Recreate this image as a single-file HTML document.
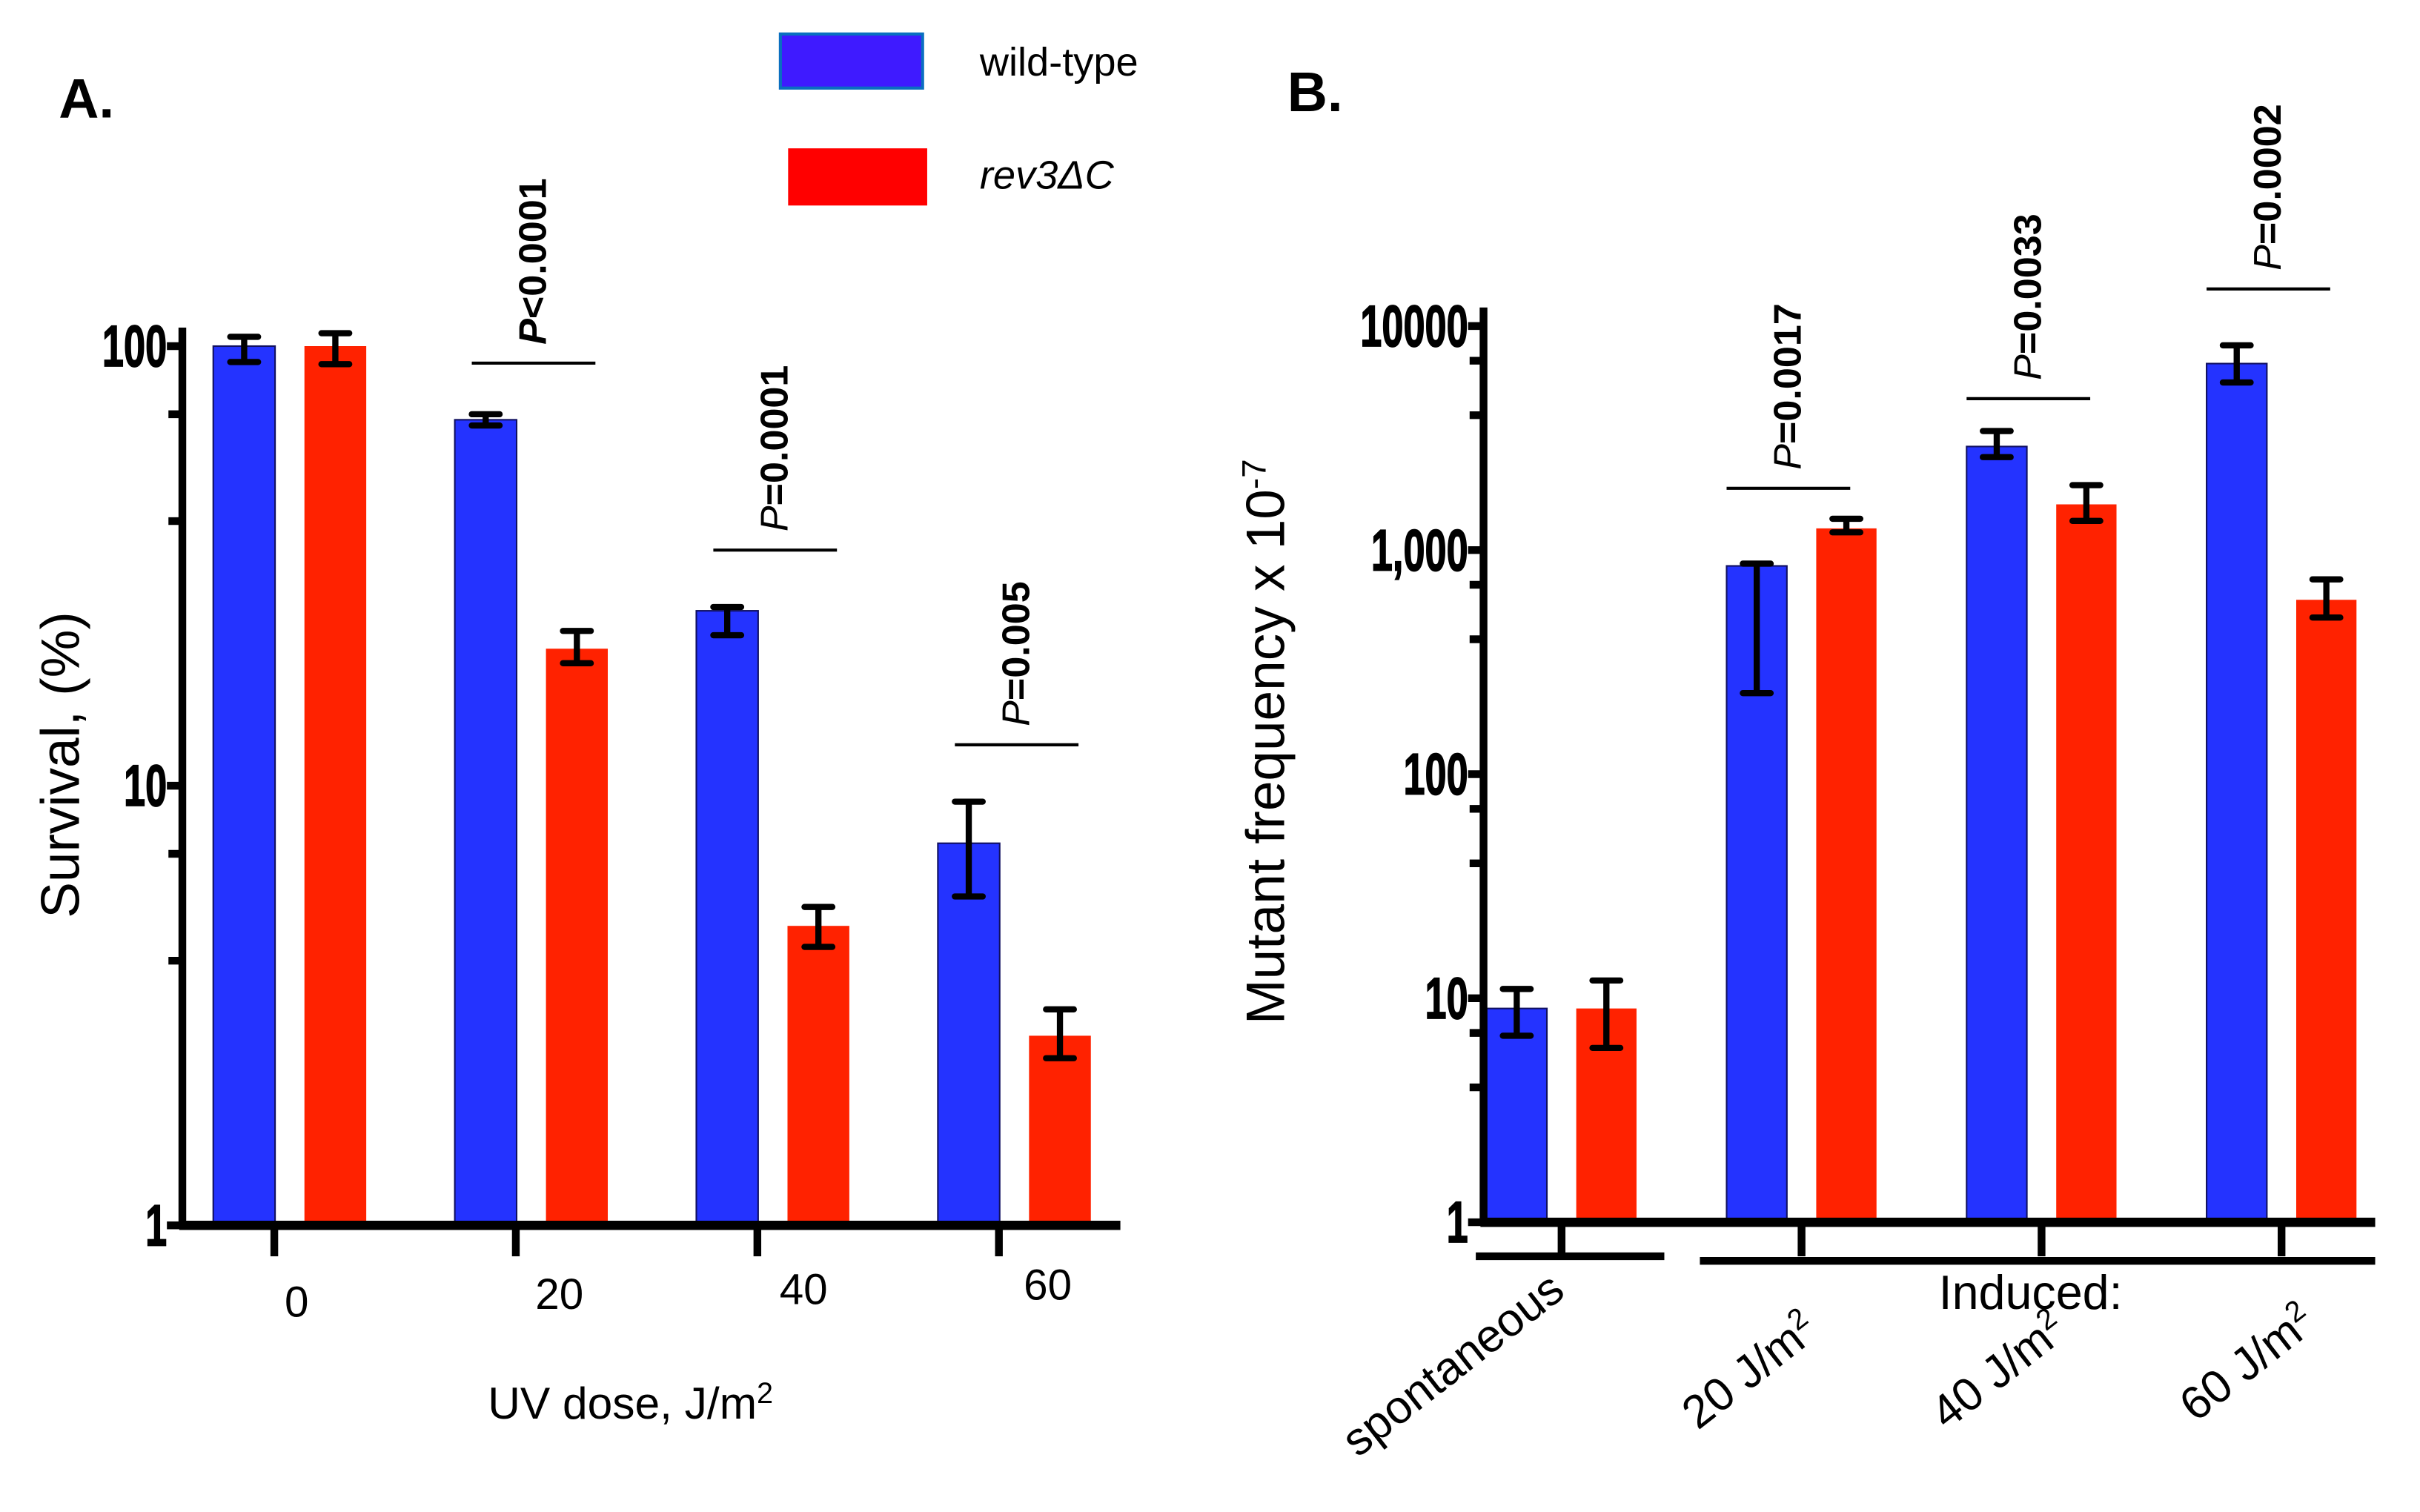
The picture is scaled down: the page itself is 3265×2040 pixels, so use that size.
<!DOCTYPE html>
<html><head><meta charset="utf-8"><style>
html,body{margin:0;padding:0;background:#fff;}
svg{display:block;}
text{font-family:"Liberation Sans",Arial,sans-serif;fill:#000;}
</style></head><body>
<svg id="fig" width="3265" height="2040" viewBox="0 0 1566 978.5" preserveAspectRatio="none" xmlns="http://www.w3.org/2000/svg">
<g id="static">
<text x="38" y="76" font-size="36" font-weight="bold">A.</text>
<text x="833" y="72" font-size="36" font-weight="bold">B.</text>
<rect x="505" y="22" width="92" height="35" fill="#3f1aff" stroke="#0a6fc0" stroke-width="2"/>
<text x="634" y="49" font-size="26">wild-type</text>
<rect x="510" y="96" width="90" height="37" fill="#ff0000"/>
<text x="634" y="122" font-size="26" font-style="italic">rev3ΔC</text>
<text transform="translate(51,495) rotate(-90)" text-anchor="middle" font-size="35">Survival, (%)</text>
<text x="408" y="918" text-anchor="middle" font-size="29">UV dose, J/m<tspan dy="-10" font-size="19">2</tspan></text>
<text transform="translate(831,480) rotate(-90)" text-anchor="middle" font-size="35">Mutant frequency x 10<tspan dy="-12" font-size="22">-7</tspan></text>
<text x="1314" y="847" text-anchor="middle" font-size="31">Induced:</text>
</g>
<g id="plotA"></g>
<g id="plotB"></g>
</svg>
<script>
// Panel A data
const catsA = ["0","20","40","60"];
const wtA = [100, 68, 25, 7.4];
const wtALo = [92, 66, 22, 5.6];
const wtAHi = [105, 70, 25.5, 9.2];
const revA = [100, 20.5, 4.8, 2.7];
const revALo = [91, 19, 4.3, 2.4];
const revAHi = [107, 22.5, 5.3, 3.1];
const pA = ["P<0.0001","P=0.0001","P=0.005"];
const ticksA = [1,10,100];
const minorA = [4,7,40,70];
// Panel B data
const catsB = ["spontaneous","20 J/m","40 J/m","60 J/m"];
const wtB = [9, 850, 2900, 6800];
const wtBLo = [6.8, 230, 2600, 5600];
const wtBHi = [11, 870, 3400, 8200];
const revB = [9, 1250, 1600, 600];
const revBLo = [6.0, 1200, 1350, 500];
const revBHi = [12, 1380, 1950, 740];
const pB = ["P=0.0017","P=0.0033","P=0.0002"];
const ticksB = [1,10,100,1000,10000];
const tickLabB = ["1","10","100","1,000","10000"];
const minorB = [4,7,40,70,400,700,4000,7000];

const NS="http://www.w3.org/2000/svg";
function mk(parent,tag,attrs){const e=document.createElementNS(NS,tag);for(const k in attrs)e.setAttribute(k,attrs[k]);parent.appendChild(e);return e;}

function drawPanel(g, cfg){
  const y = v => cfg.y0 - cfg.dec*Math.log10(v);
  const gx = i => cfg.x0 + i*cfg.step;
  for(let i=0;i<cfg.cats.length;i++){
    const series=[[cfg.wt,cfg.wtLo,cfg.wtHi,"#2433ff","wt"],[cfg.rev,cfg.revLo,cfg.revHi,"#ff2200","rev3"]];
    series.forEach((s,j)=>{
      const bx = gx(i)+j*cfg.pair;
      const r=mk(g,"rect",{x:bx,y:y(s[0][i]),width:cfg.bw,height:cfg.y0-y(s[0][i]),fill:s[3],stroke:j==0?"#101060":"none","stroke-width":1});
      
      
      const cx=bx+cfg.bw/2, lo=y(s[1][i]), hi=y(s[2][i]);
      const e=mk(g,"path",{d:`M${cx},${lo}V${hi}M${cx-9},${lo}H${cx+9}M${cx-9},${hi}H${cx+9}`,stroke:"#000","stroke-width":4,fill:"none","stroke-linecap":"round"});
      
      
    });
  }
  const ax=mk(g,"line",{x1:cfg.ax,y1:y(cfg.ticks[cfg.ticks.length-1])-12,x2:cfg.ax,y2:cfg.y0+2,stroke:"#000","stroke-width":5});
  
  
  cfg.ticks.forEach((t,k)=>{
    mk(g,"line",{x1:cfg.ax-10,y1:y(t),x2:cfg.ax,y2:y(t),stroke:"#000","stroke-width":5});
    const tl=mk(g,"text",{x:0,y:0,"font-size":38,"font-weight":"bold","text-anchor":"end",stroke:"#000","stroke-width":0.8,transform:`translate(${cfg.ax-10},${y(t)+13}) scale(0.66,1)`});
    tl.textContent=cfg.tickLab[k];
    
    
  });
  cfg.minor.forEach(t=>{mk(g,"line",{x1:cfg.ax-9,y1:y(t),x2:cfg.ax,y2:y(t),stroke:"#000","stroke-width":5});});
  const xa=mk(g,"line",{x1:cfg.ax-2,y1:cfg.y0,x2:cfg.xend,y2:cfg.y0,stroke:"#000","stroke-width":6});
  
  
  for(let i=0;i<cfg.cats.length;i++){
    const cx=gx(i)+cfg.pair/2+cfg.bw/2;
    mk(g,"line",{x1:cfg.tickOff+cx,y1:cfg.y0,x2:cfg.tickOff+cx,y2:cfg.y0+cfg.tickLen,stroke:"#000","stroke-width":5});
  }
  cfg.p.forEach((p,k)=>{
    const i=k+1, ly=cfg.pY[k], lx=gx(i)+cfg.pOff;
    const l=mk(g,"line",{x1:lx,y1:ly,x2:lx+80,y2:ly,stroke:"#000","stroke-width":2});
    
    
    const t=mk(g,"text",{transform:`translate(${lx+48},${ly-12}) rotate(-90)`,"font-size":25,"font-weight":"bold"});
    const ts=mk(t,"tspan",{"font-style":"italic","font-weight":k==0&&cfg.boldP?"bold":"normal"});ts.textContent=p[0];
    const ts2=mk(t,"tspan",{});ts2.textContent=p.slice(1);
    
    
  });
}

const gA=document.getElementById('plotA');
drawPanel(gA,{cats:catsA,wt:wtA,wtLo:wtALo,wtHi:wtAHi,rev:revA,revLo:revALo,revHi:revAHi,p:pA,ticks:ticksA,tickLab:ticksA.map(String),minor:minorA,
  y0:793,dec:284.5,x0:138,step:156.3,bw:40,pair:59,ax:118,xend:725,tickOff:-10,tickLen:20,pY:[235,356,482],pOff:11,boldP:true});
catsA.forEach((c,i)=>{
  const xs=[192,362,520,678], ys=[852,847,844,841];
  const t=mk(gA,"text",{x:xs[i],y:ys[i],"font-size":28,"text-anchor":"middle"});t.textContent=c;
  
  
});

const gB=document.getElementById('plotB');
drawPanel(gB,{cats:catsB,wt:wtB,wtLo:wtBLo,wtHi:wtBHi,rev:revB,revLo:revBLo,revHi:revBHi,p:pB,ticks:ticksB,tickLab:tickLabB,minor:minorB,
  y0:791,dec:145,x0:962,step:155.3,bw:39,pair:58,ax:960,xend:1537,tickOff:0,tickLen:22,pY:[316,258,187],pOff:0,boldP:false});
const sb=mk(gB,"line",{x1:955,y1:813,x2:1077,y2:813,stroke:"#000","stroke-width":5});


const ib=mk(gB,"line",{x1:1100,y1:816,x2:1537,y2:816,stroke:"#000","stroke-width":5});


catsB.forEach((c,i)=>{
  const xs=[1014,1178,1339,1500], ys=[838,864,864,859];
  const t=mk(gB,"text",{transform:`translate(${xs[i]},${ys[i]}) rotate(-38)`,"font-size":30,"text-anchor":"end"});
  t.textContent=c;
  if(i>0){const s=mk(t,"tspan",{dy:-11,"font-size":19});s.textContent="2";}
  
  
});
</script>
</body></html>
